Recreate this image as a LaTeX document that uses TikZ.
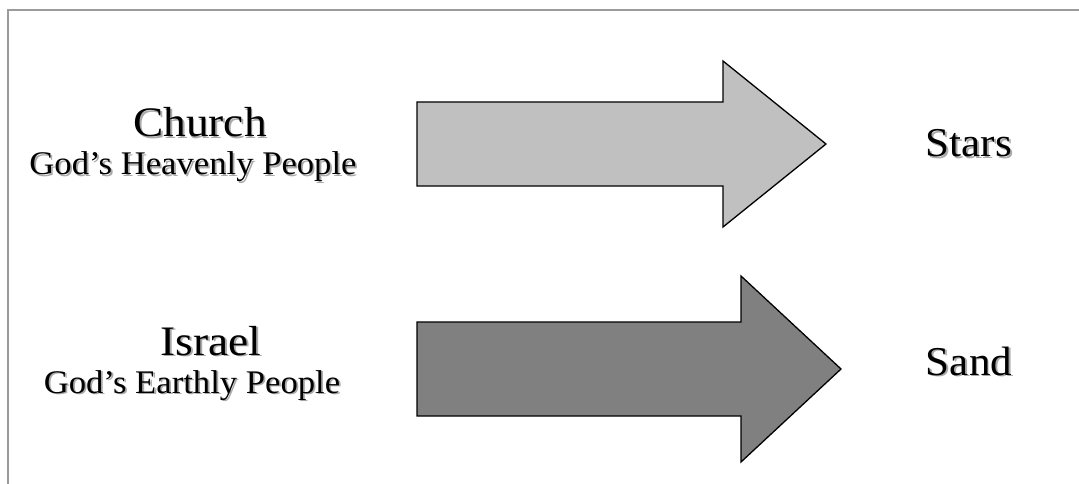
\documentclass[tikz,border=0pt]{standalone}
\usepackage{fontspec}
\setmainfont{Liberation Serif}
\definecolor{frame}{RGB}{155,155,155}
\definecolor{lightarrow}{RGB}{192,192,192}
\definecolor{darkarrow}{RGB}{128,128,128}
\definecolor{shadowgray}{RGB}{170,170,170}
\newcommand{\shtext}[5]{% name, position, size, xstretch, text
  \node[anchor=base, text=shadowgray, inner sep=0pt, font=\fontsize{#3}{#3}\selectfont] at ([shift={(1.8pt,-1.8pt)}]#2) {\scalebox{#4}[1]{#5}};
  \node[anchor=base, text=black, inner sep=0pt, font=\fontsize{#3}{#3}\selectfont] (#1) at (#2) {\scalebox{#4}[1]{#5}};}
\begin{document}
\begin{tikzpicture}[x=1pt,y=-1pt,
  arrowshape/.style={draw=black, line width=1.3pt, line join=miter}]
\useasboundingbox (0,0) rectangle (1079,484);
% frame
\draw[frame, line width=2pt] (8,484) -- (8,10) -- (1079,10);
% arrows
\draw[arrowshape, fill=lightarrow] (417,102) -- (723,102) -- (723,61) -- (826,144) -- (723,227) -- (723,186) -- (417,186) -- cycle;
\draw[arrowshape, fill=darkarrow] (417,322) -- (741,322) -- (741,276) -- (841,369) -- (741,462) -- (741,416) -- (417,416) -- cycle;
% texts
\shtext{church}{200,137}{42pt}{1.08}{Church}
\shtext{heavenly}{193,175}{33pt}{1.05}{God’s Heavenly People}
\shtext{israel}{211,355}{42pt}{1.08}{Israel}
\shtext{earthly}{192,393}{33pt}{1.05}{God’s Earthly People}
\shtext{stars}{969,157}{41pt}{1.05}{Stars}
\shtext{sand}{969,375}{41pt}{1.05}{Sand}
\end{tikzpicture}
\end{document}
